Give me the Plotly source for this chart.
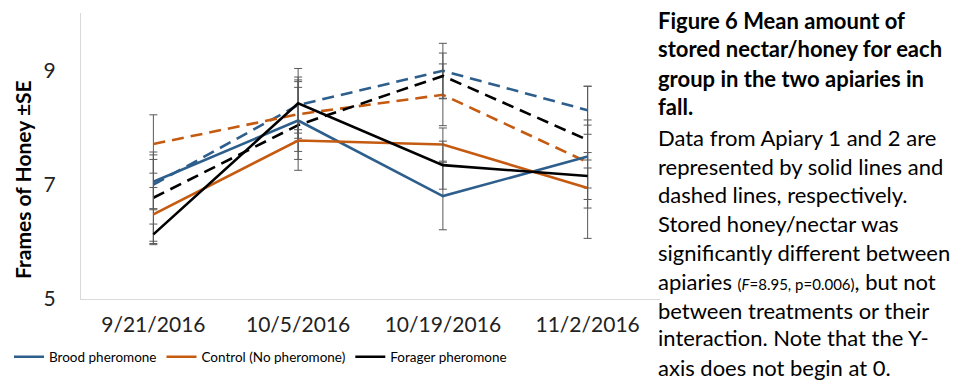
import plotly.graph_objects as go

dates = ["9/21/2016", "10/5/2016", "10/19/2016", "11/2/2016"]

# Apiary 1 (solid lines)
brood_a1 = [7.05, 8.12, 6.80, 7.49]
brood_a1_se = [0.47, 0.68, 0.59, 0.55]
control_a1 = [6.48, 7.77, 7.70, 6.94]
control_a1_se = [0.47, 0.19, 0.29, 0.35]
forager_a1 = [6.13, 8.42, 7.34, 7.15]
forager_a1_se = [0.18, 0.61, 0.42, 0.41]

# Apiary 2 (dashed lines)
brood_a2 = [7.00, 8.39, 8.99, 8.30]
brood_a2_se = [0.44, 0.49, 0.48, 0.42]
control_a2 = [7.71, 8.23, 8.57, 7.39]
control_a2_se = [0.51, 0.47, 0.54, 1.33]
forager_a2 = [6.77, 8.04, 8.90, 7.78]
forager_a2_se = [0.80, 0.79, 0.40, 0.35]

BLUE = "#2E5F8C"
ORANGE = "#C55A11"
BLACK = "#000000"
ERR = "#595959"
FONT = "Lato"

fig = go.Figure()

def add(name, y, se, color, dash, show):
    fig.add_trace(go.Scatter(
        x=dates, y=y, mode="lines", name=name, showlegend=show,
        line=dict(color=color, width=2.6, dash=dash),
        error_y=dict(type="data", array=se, color=ERR, thickness=1, width=4),
    ))

add("Brood pheromone (Apiary 2)", brood_a2, brood_a2_se, BLUE, "12px,7px", False)
add("Control (Apiary 2)", control_a2, control_a2_se, ORANGE, "12px,7px", False)
add("Forager (Apiary 2)", forager_a2, forager_a2_se, BLACK, "12px,7px", False)
add("Brood pheromone", brood_a1, brood_a1_se, BLUE, "solid", True)
add("Control (No pheromone)", control_a1, control_a1_se, ORANGE, "solid", True)
add("Forager pheromone", forager_a1, forager_a1_se, BLACK, "solid", True)

# the page body has an 8px margin, so the figure is drawn 8px in from the window corner
OFF = 8
W, H = 960 - OFF, 384 - OFF
PL, PR, PT, PB = 81, 660, 13, 299  # plot area in window pixels
L, R, T, B = PL - OFF, W - (PR - OFF), PT - OFF, H - (PB - OFF)
pw, ph = W - L - R, H - T - B

def px_x(x):
    return (x - OFF - L) / pw

def px_y(y):
    return (H - B - (y - OFF)) / ph

fig.update_layout(
    width=W, height=H,
    margin=dict(l=L, r=R, t=T, b=B, autoexpand=False),
    paper_bgcolor="white", plot_bgcolor="white",
    font=dict(family=FONT, color="#000000"),
    showlegend=True,
    legend=dict(
        orientation="h", x=px_x(9), y=px_y(357), xanchor="left", yanchor="middle",
        font=dict(size=13.5, family=FONT, color="#000"),
        itemwidth=30, tracegroupgap=0, bgcolor="rgba(0,0,0,0)",
    ),
    xaxis=dict(
        type="category", range=[-0.5, 3.5], showgrid=False, zeroline=False,
        showline=True, linecolor="#D9D9D9", linewidth=1,
        ticks="outside", ticklen=7, tickcolor="rgba(0,0,0,0)",
        tickfont=dict(size=21, family=FONT, color="#222"),
    ),
    yaxis=dict(
        range=[5, 10], tickvals=[5, 7, 9], showgrid=False, zeroline=False,
        showline=True, linecolor="#D9D9D9", linewidth=1,
        ticks="outside", ticklen=20, tickcolor="rgba(0,0,0,0)",
        tickfont=dict(size=21, family=FONT, color="#222"),
    ),
)

# y-axis title
fig.add_annotation(
    text="<b>Frames of Honey ±SE</b>", textangle=-90,
    xref="paper", yref="paper", x=px_x(22), y=px_y(180),
    xanchor="center", yanchor="middle", showarrow=False,
    font=dict(size=21, family=FONT, color="#000"),
)

caption = [
    "<b>Figure 6 Mean amount of</b>",
    "<b>stored nectar/honey for each</b>",
    "<b>group in the two apiaries in</b>",
    "<b>fall.</b>",
    "Data from Apiary 1 and 2 are",
    "represented by solid lines and",
    "dashed lines, respectively.",
    "Stored honey/nectar was",
    "significantly different between",
    "apiaries <span style='font-size:15px'>(<i>F</i>=8.95, p=0.006)</span>, but not",
    "between treatments or their",
    "interaction. Note that the Y-",
    "axis does not begin at 0.",
]
line_y = [20, 49, 78, 107, 137, 166, 194, 223, 252, 281, 310, 338, 367]
for txt, yy in zip(caption, line_y):
    fig.add_annotation(
        text=txt, xref="paper", yref="paper", x=px_x(656), y=px_y(yy),
        xanchor="left", yanchor="middle", showarrow=False, align="left",
        font=dict(size=22, family=FONT, color="#000"),
    )

fig.write_html("out.html")
